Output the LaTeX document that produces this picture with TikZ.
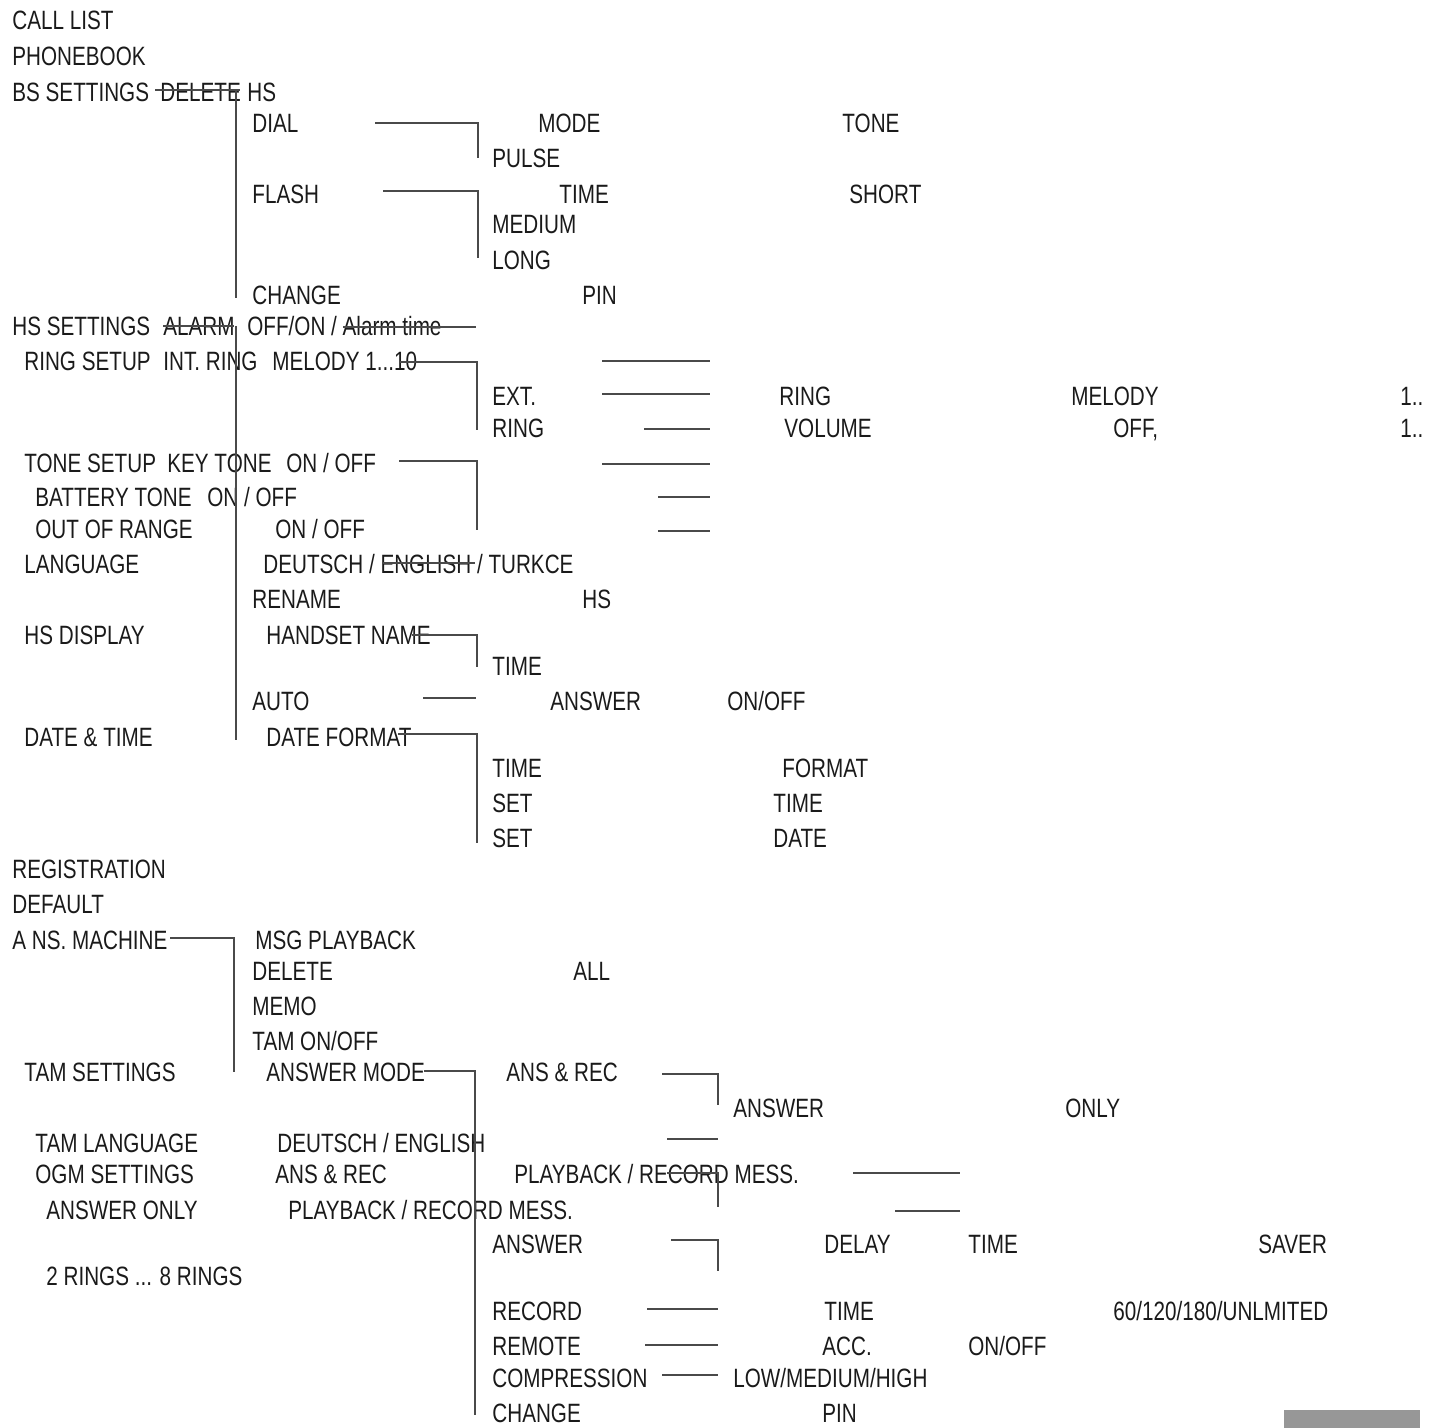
\documentclass[tikz,border=0pt]{standalone}
\usepackage{fontspec}
\setmainfont{Liberation Sans}[FakeStretch=0.78]
\usepackage{tikz}
\definecolor{menu-text}{HTML}{1A1A1A}
\definecolor{menu-line}{HTML}{4A4A4A}
\definecolor{menu-tab}{HTML}{979797}

\begin{document}
\begin{tikzpicture}[
    x=0.5pt, y=-0.5pt,
    lbl/.style={anchor=base west, inner sep=0pt, yshift=-4.75pt, text=menu-text,
                font=\fontsize{13.25pt}{15pt}\selectfont},
    ln/.style={menu-line, line width=1pt},
]
    \useasboundingbox (0,0) rectangle (1434,1428);

    % Main menu
    \node[lbl] (calllist) at (12,20) {CALL LIST};
    \node[lbl] (phonebook) at (12,56) {PHONEBOOK};
    \node[lbl] (bsset) at (12,92) {BS SETTINGS};
    \node[lbl] (bsdel) at (160,92) {DELETE};
    \node[lbl] (bshs) at (247,92) {HS};

    % BS settings
    \node[lbl] (dial) at (252,123) {DIAL};
    \node[lbl] (dialmode) at (538,123) {MODE};
    \node[lbl] (dialtone) at (842,123) {TONE};
    \node[lbl] (pulse) at (492,158) {PULSE};
    \node[lbl] (flash) at (252,194) {FLASH};
    \node[lbl] (flashtime) at (559,194) {TIME};
    \node[lbl] (short) at (849,194) {SHORT};
    \node[lbl] (medium) at (492,224) {MEDIUM};
    \node[lbl] (long) at (492,260) {LONG};
    \node[lbl] (bschange) at (252,295) {CHANGE};
    \node[lbl] (bspin) at (582,295) {PIN};

    % HS settings
    \node[lbl] (hsset) at (12,326) {HS SETTINGS};
    \node[lbl] (alarm) at (163,326) {ALARM};
    \node[lbl] (alarmon) at (247,326) {OFF/ON / Alarm time};
    \node[lbl] (ringsetup) at (24,361) {RING SETUP};
    \node[lbl] (intring) at (163,361) {INT. RING};
    \node[lbl] (intmelody) at (272,361) {MELODY 1...10};
    \node[lbl] (ext) at (492,396) {EXT.};
    \node[lbl] (extring) at (779,396) {RING};
    \node[lbl] (extmelody) at (1071,396) {MELODY};
    \node[lbl] (extrange) at (1400,396) {1..};
    \node[lbl] (ringb) at (492,428) {RING};
    \node[lbl] (volume) at (784,428) {VOLUME};
    \node[lbl] (voloff) at (1113,428) {OFF,};
    \node[lbl] (volrange) at (1400,428) {1..};
    \node[lbl] (tonesetup) at (24,463) {TONE SETUP};
    \node[lbl] (keytone) at (167,463) {KEY TONE};
    \node[lbl] (keyonoff) at (286,463) {ON / OFF};
    \node[lbl] (battone) at (35,497) {BATTERY TONE};
    \node[lbl] (batonoff) at (207,497) {ON / OFF};
    \node[lbl] (outrange) at (35,529) {OUT OF RANGE};
    \node[lbl] (outonoff) at (275,529) {ON / OFF};
    \node[lbl] (language) at (24,564) {LANGUAGE};
    \node[lbl] (langlist) at (263,564) {DEUTSCH / ENGLISH / TURKCE};
    \node[lbl] (rename) at (252,599) {RENAME};
    \node[lbl] (renhs) at (582,599) {HS};
    \node[lbl] (hsdisplay) at (24,635) {HS DISPLAY};
    \node[lbl] (hsname) at (266,635) {HANDSET NAME};
    \node[lbl] (disptime) at (492,666) {TIME};
    \node[lbl] (auto) at (252,701) {AUTO};
    \node[lbl] (autoans) at (550,701) {ANSWER};
    \node[lbl] (autoonoff) at (727,701) {ON/OFF};
    \node[lbl] (datetime) at (24,737) {DATE \& TIME};
    \node[lbl] (datefmt) at (266,737) {DATE FORMAT};
    \node[lbl] (timea) at (492,768) {TIME};
    \node[lbl] (timefmt) at (782,768) {FORMAT};
    \node[lbl] (seta) at (492,803) {SET};
    \node[lbl] (settime) at (773,803) {TIME};
    \node[lbl] (setb) at (492,838) {SET};
    \node[lbl] (setdate) at (773,838) {DATE};

    % Rest of main menu
    \node[lbl] (registration) at (12,869) {REGISTRATION};
    \node[lbl] (default) at (12,904) {DEFAULT};
    \node[lbl] (ansmachine) at (12,940) {A NS. MACHINE};

    % Answering machine
    \node[lbl] (msgplay) at (255,940) {MSG PLAYBACK};
    \node[lbl] (tamdelete) at (252,971) {DELETE};
    \node[lbl] (delall) at (573,971) {ALL};
    \node[lbl] (memo) at (252,1006) {MEMO};
    \node[lbl] (tamonoff) at (252,1041) {TAM ON/OFF};
    \node[lbl] (tamset) at (24,1072) {TAM SETTINGS};
    \node[lbl] (ansmode) at (266,1072) {ANSWER MODE};
    \node[lbl] (ansrec) at (506,1072) {ANS \& REC};
    \node[lbl] (ansonly) at (733,1108) {ANSWER};
    \node[lbl] (only) at (1065,1108) {ONLY};
    \node[lbl] (tamlang) at (35,1143) {TAM LANGUAGE};
    \node[lbl] (tamlanglist) at (277,1143) {DEUTSCH / ENGLISH};
    \node[lbl] (ogmset) at (35,1174) {OGM SETTINGS};
    \node[lbl] (ogmrec) at (275,1174) {ANS \& REC};
    \node[lbl] (ogmplaya) at (514,1174) {PLAYBACK / RECORD MESS.};
    \node[lbl] (ogmonly) at (46,1210) {ANSWER ONLY};
    \node[lbl] (ogmplayb) at (288,1210) {PLAYBACK / RECORD MESS.};
    \node[lbl] (ansdelay) at (492,1244) {ANSWER};
    \node[lbl] (delay) at (824,1244) {DELAY};
    \node[lbl] (delaytime) at (968,1244) {TIME};
    \node[lbl] (saver) at (1258,1244) {SAVER};
    \node[lbl] (rings) at (46,1276) {2 RINGS ... 8 RINGS};
    \node[lbl] (record) at (492,1311) {RECORD};
    \node[lbl] (rectime) at (824,1311) {TIME};
    \node[lbl] (reclen) at (1113,1311) {60/120/180/UNLMITED};
    \node[lbl] (remote) at (492,1346) {REMOTE};
    \node[lbl] (acc) at (822,1346) {ACC.};
    \node[lbl] (acconoff) at (968,1346) {ON/OFF};
    \node[lbl] (compress) at (492,1378) {COMPRESSION};
    \node[lbl] (complevel) at (733,1378) {LOW/MEDIUM/HIGH};
    \node[lbl] (tamchange) at (492,1413) {CHANGE};
    \node[lbl] (tampin) at (822,1413) {PIN};

    % Brackets and strokes, upper part
    \draw[ln] (155,90) -- (240,90);
    \draw[ln] (236,90) -- (236,298);
    \draw[ln] (375,123) -| (478,158);
    \draw[ln] (383,191) -| (478,258);
    \draw[ln] (163,326) -- (234,326);
    \draw[ln] (236,326) -- (236,740);
    \draw[ln] (343,327) -- (476,327);
    \draw[ln] (400,362) -| (477,430);
    \draw[ln] (399,461) -| (477,530);
    \draw[ln] (383,563) -- (475,563);
    \draw[ln] (412,635) -| (477,667);
    \draw[ln] (423,698) -- (476,698);
    \draw[ln] (398,734) -| (477,843);

    % Short rules on the right
    \draw[ln] (602,361) -- (710,361);
    \draw[ln] (602,394) -- (710,394);
    \draw[ln] (644,429) -- (710,429);
    \draw[ln] (602,464) -- (710,464);
    \draw[ln] (658,497) -- (710,497);
    \draw[ln] (658,531) -- (710,531);

    % Brackets and strokes, lower part
    \draw[ln] (170,938) -| (234,1072);
    \draw[ln] (424,1071) -| (475,1415);
    \draw[ln] (662,1074) -| (718,1105);
    \draw[ln] (667,1139) -- (718,1139);
    \draw[ln] (667,1173) -| (718,1207);
    \draw[ln] (853,1173) -- (960,1173);
    \draw[ln] (895,1211) -- (960,1211);
    \draw[ln] (671,1240) -| (718,1271);
    \draw[ln] (647,1309) -- (718,1309);
    \draw[ln] (645,1345) -- (718,1345);
    \draw[ln] (662,1375) -- (718,1375);

    \fill[menu-tab] (1284,1410) rectangle (1420,1428);
\end{tikzpicture}
\end{document}
